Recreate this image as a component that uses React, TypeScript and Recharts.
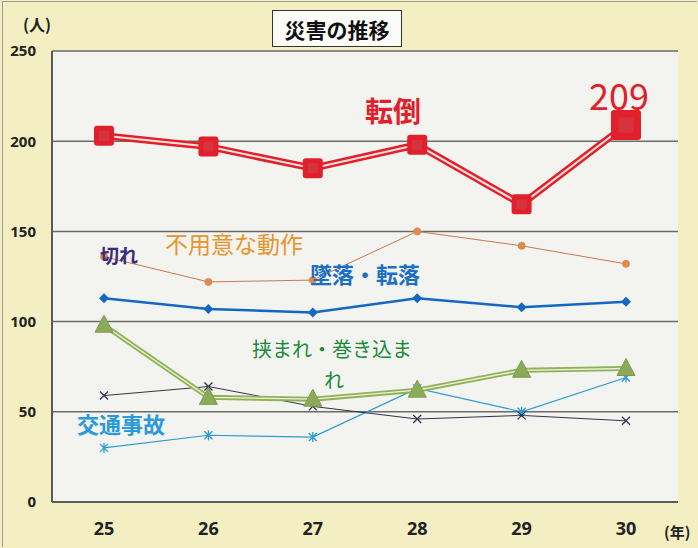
import { LineChart, Line, XAxis, YAxis, CartesianGrid } from "recharts";

const years = ["25", "26", "27", "28", "29", "30"];
const tentou = [203, 197, 185, 198, 165, 209];
const fuyoui = [136, 122, 123, 150, 142, 132];
const tsuiraku = [113, 107, 105, 113, 108, 111];
const hasamare = [98, 58, 57, 62, 73, 74];
const kire = [59, 64, 53, 46, 48, 45];
const koutsu = [30, 37, 36, 63, 50, 69];
const yTicks = [0, 50, 100, 150, 200, 250];

const data = years.map((y, i) => ({
  year: y,
  tentou: tentou[i],
  fuyoui: fuyoui[i],
  tsuiraku: tsuiraku[i],
  hasamare: hasamare[i],
  kire: kire[i],
  koutsu: koutsu[i],
}));

const jp = '"Noto Sans CJK JP", "Noto Sans", sans-serif';

function SquareDot(props: any) {
  const { cx, cy, index } = props;
  const s = index === years.length - 1 ? 30 : 20;
  return (
    <g key={`sq-${index}`}>
      <rect x={cx - s / 2} y={cy - s / 2} width={s} height={s} rx={3} fill="#e2202c" />
      <rect x={cx - s / 4} y={cy - s / 4} width={s / 2} height={s / 2} fill="#d6343c" />
    </g>
  );
}

function TriDot(props: any) {
  const { cx, cy, index } = props;
  return (
    <path
      key={`tri-${index}`}
      d={`M${cx},${cy - 10} L${cx + 9},${cy + 7} L${cx - 9},${cy + 7} Z`}
      fill="#8bab58"
      stroke="#7d9c4c"
      strokeWidth={1}
      strokeLinejoin="round"
    />
  );
}

function DiamondDot(props: any) {
  const { cx, cy, index } = props;
  return (
    <path
      key={`dia-${index}`}
      d={`M${cx},${cy - 5} L${cx + 5},${cy} L${cx},${cy + 5} L${cx - 5},${cy} Z`}
      fill="#1568c2"
    />
  );
}

function CrossDot(props: any) {
  const { cx, cy, index, stroke } = props;
  return (
    <path
      key={`x-${index}`}
      d={`M${cx - 4},${cy - 4} L${cx + 4},${cy + 4} M${cx - 4},${cy + 4} L${cx + 4},${cy - 4}`}
      stroke={stroke}
      strokeWidth={1.3}
      fill="none"
    />
  );
}

function StarDot(props: any) {
  const { cx, cy, index, stroke } = props;
  return (
    <path
      key={`st-${index}`}
      d={`M${cx - 4},${cy - 4} L${cx + 4},${cy + 4} M${cx - 4},${cy + 4} L${cx + 4},${cy - 4} M${cx},${cy - 5} L${cx},${cy + 5}`}
      stroke={stroke}
      strokeWidth={1.3}
      fill="none"
    />
  );
}

const label = (
  text: string,
  left: number,
  top: number,
  color: string,
  size: number,
  weight: number | string = "bold"
) => (
  <div
    style={{
      position: "absolute",
      left,
      top,
      color,
      fontSize: size,
      fontWeight: weight,
      fontFamily: jp,
      lineHeight: 1,
      whiteSpace: "nowrap",
    }}
  >
    {text}
  </div>
);

export default function App() {
  return (
    <div
      style={{
        position: "absolute",
        left: 0,
        top: 0,
        width: 698,
        height: 548,
        background: "#f4efc3",
        overflow: "hidden",
      }}
    >
      <LineChart
        width={698}
        height={548}
        data={data}
        margin={{ top: 51, right: 20, bottom: 16, left: 0 }}
      >
        <CartesianGrid vertical={false} stroke="#6b6b6b" strokeWidth={1.5} fill="#f3f3ef" />
        <XAxis
          dataKey="year"
          padding={{ left: 52, right: 52 }}
          axisLine={{ stroke: "#5a5a5a", strokeWidth: 2 }}
          tickLine={false}
          tickSize={0}
          tickMargin={20}
          tick={{ fill: "#222", fontSize: 18, fontWeight: "bold", fontFamily: '"Open Sans", sans-serif' }}
        />
        <YAxis
          width={52}
          domain={[0, 250]}
          ticks={yTicks}
          axisLine={{ stroke: "#5a5a5a", strokeWidth: 2 }}
          tickLine={false}
          tickSize={0}
          tickMargin={16}
          tick={{ fill: "#222", fontSize: 15, fontWeight: "bold", fontFamily: '"Open Sans", sans-serif' }}
        />

        <Line dataKey="koutsu" stroke="#2b9ad6" strokeWidth={1.2} dot={<StarDot />} isAnimationActive={false} />
        <Line dataKey="kire" stroke="#33334f" strokeWidth={1} dot={<CrossDot />} isAnimationActive={false} />
        <Line dataKey="fuyoui" stroke="#c87a4e" strokeWidth={1} dot={{ r: 3.5, fill: "#e08a4c", stroke: "#e08a4c" }} isAnimationActive={false} />
        <Line dataKey="tsuiraku" stroke="#1568c2" strokeWidth={2.5} dot={<DiamondDot />} isAnimationActive={false} />

        <Line dataKey="hasamare" stroke="#8fb15a" strokeWidth={5} dot={false} isAnimationActive={false} />
        <Line dataKey="hasamare" stroke="#eef3d2" strokeWidth={1.3} dot={false} isAnimationActive={false} />
        <Line dataKey="hasamare" stroke="none" strokeWidth={0} dot={<TriDot />} isAnimationActive={false} />

        <Line dataKey="tentou" stroke="#e2202c" strokeWidth={7} dot={false} isAnimationActive={false} />
        <Line dataKey="tentou" stroke="#fde4dc" strokeWidth={2} dot={false} isAnimationActive={false} />
        <Line dataKey="tentou" stroke="none" strokeWidth={0} dot={<SquareDot />} isAnimationActive={false} />
      </LineChart>

      <div
        style={{
          position: "absolute",
          left: 272,
          top: 10,
          width: 128,
          height: 35,
          border: "1.5px solid #333",
          background: "#fbfbf8",
          fontFamily: jp,
          fontSize: 21,
          fontWeight: "bold",
          color: "#111",
          display: "flex",
          alignItems: "center",
          justifyContent: "center",
        }}
      >
        災害の推移
      </div>

      {label("(人)", 23, 16, "#222", 16, "bold")}
      {label("(年)", 664, 524, "#222", 15, "bold")}
      {label("転倒", 365, 96, "#e0202a", 28)}
      {label("209", 589, 76, "#e0202a", 36, "normal")}
      {label("不用意な動作", 165, 232, "#e8942c", 23, "normal")}
      {label("切れ", 100, 245, "#3e2a7e", 19)}
      {label("墜落・転落", 310, 262, "#1b6fc4", 22)}
      {label("挟まれ・巻き込ま", 252, 339, "#1b8a3c", 20, "normal")}
      {label("れ", 324, 370, "#1b8a3c", 20, "normal")}
      {label("交通事故", 77, 412, "#2a9ad8", 22)}

      <div
        style={{
          position: "absolute",
          left: 2,
          top: 1,
          width: 694,
          height: 545,
          borderLeft: "1px solid #9a9a90",
          borderTop: "1px solid #9a9a90",
          pointerEvents: "none",
        }}
      />
    </div>
  );
}
